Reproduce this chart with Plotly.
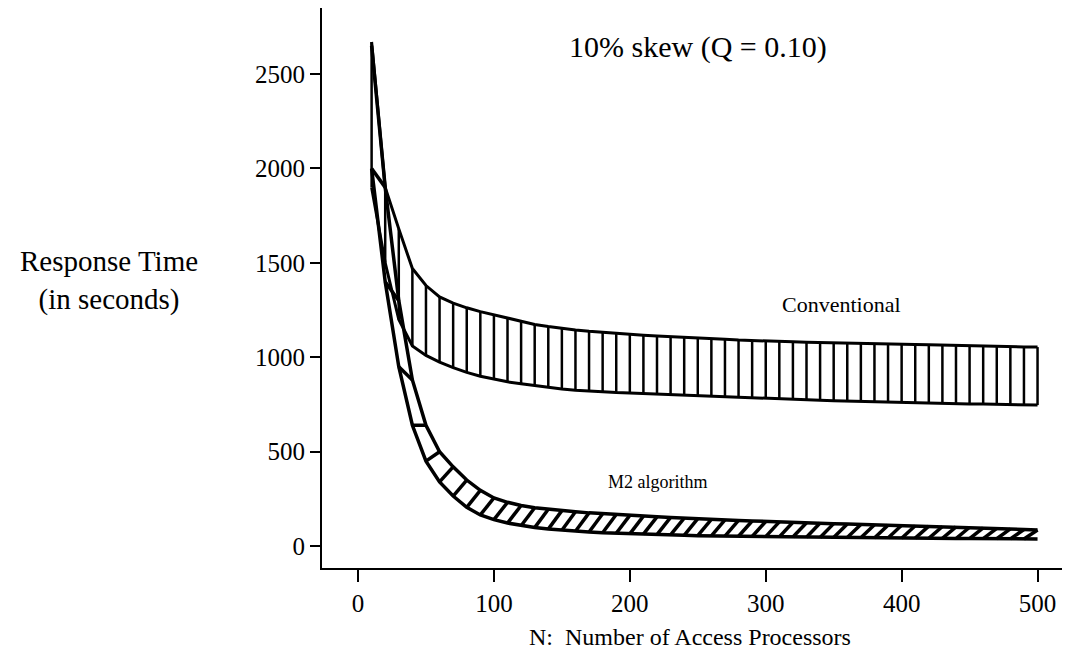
import plotly.graph_objects as go

# ---- data ----
N = [10, 20, 30, 40, 50, 60, 70, 80, 90, 100,
     110, 120, 130, 140, 150, 160, 170, 180, 190, 200,
     210, 220, 230, 240, 250, 260, 270, 280, 290, 300,
     310, 320, 330, 340, 350, 360, 370, 380, 390, 400,
     410, 420, 430, 440, 450, 460, 470, 480, 490, 500]

conv_upper = [2670, 1900, 1680, 1470, 1380, 1320, 1287, 1262, 1242, 1225,
              1205, 1188, 1174, 1163, 1153, 1145, 1138, 1132, 1126, 1121,
              1117, 1113, 1110, 1107, 1103, 1099, 1095, 1091, 1088, 1086,
              1084, 1082, 1080, 1079, 1077, 1076, 1075, 1073, 1071, 1069,
              1068, 1066, 1064, 1063, 1061, 1060, 1058, 1057, 1055, 1054]

conv_lower = [1900, 1500, 1200, 1060, 1010, 975, 945, 920, 900, 885,
              870, 860, 850, 840, 832, 825, 820, 816, 813, 811,
              808, 804, 801, 798, 795, 792, 789, 786, 784, 782,
              780, 777, 775, 772, 770, 768, 766, 764, 762, 760,
              759, 758, 757, 755, 753, 752, 751, 750, 748, 747]

m2_upper = [2650, 1900, 1300, 880, 640, 500, 420, 350, 295, 255,
            232, 215, 203, 195, 188, 182, 176, 171, 167, 163,
            159, 155, 152, 148, 145, 142, 139, 136, 133, 130,
            128, 126, 124, 122, 119, 117, 115, 113, 111, 110,
            108, 106, 104, 102, 100, 97, 94, 91, 88, 85]

m2_lower = [2000, 1400, 950, 640, 450, 340, 265, 205, 165, 140,
            122, 108, 98, 90, 84, 79, 75, 71, 68, 65,
            63, 61, 59, 57, 55, 54, 53, 52, 51, 50,
            49, 48, 47, 46, 45, 45, 44, 43, 43, 42,
            42, 41, 41, 40, 40, 39, 39, 38, 38, 38]

x_ticks = [0, 100, 200, 300, 400, 500]
y_ticks = [0, 500, 1000, 1500, 2000, 2500]

title_text = "10% skew (Q = 0.10)"
conv_label = "Conventional"
m2_label = "M2 algorithm"
x_title = "N:  Number of Access Processors"
y_title = "Response Time<br>(in seconds)"

FONT = "Liberation Serif, Times New Roman, serif"
INK = "black"

fig = go.Figure()

# conventional band: vertical hatching
hx, hy = [], []
for n, lo, up in zip(N, conv_lower, conv_upper):
    hx += [n, n, None]
    hy += [lo, up, None]
fig.add_trace(go.Scatter(x=hx, y=hy, mode="lines",
                         line=dict(color=INK, width=2.5), hoverinfo="skip"))
fig.add_trace(go.Scatter(x=N, y=conv_upper, mode="lines",
                         line=dict(color=INK, width=3), hoverinfo="skip"))
fig.add_trace(go.Scatter(x=N, y=conv_lower, mode="lines",
                         line=dict(color=INK, width=3), hoverinfo="skip"))

# M2 band: Z-shaped hatching
zx, zy = [], []
for i in range(len(N) - 1):
    zx += [N[i + 1], N[i], None]
    zy += [m2_upper[i + 1], m2_lower[i], None]
fig.add_trace(go.Scatter(x=zx, y=zy, mode="lines",
                         line=dict(color=INK, width=3.5), hoverinfo="skip"))
fig.add_trace(go.Scatter(x=N, y=m2_upper, mode="lines",
                         line=dict(color=INK, width=3.5), hoverinfo="skip"))
fig.add_trace(go.Scatter(x=N, y=m2_lower, mode="lines",
                         line=dict(color=INK, width=3.5), hoverinfo="skip"))

annotations = [
    dict(x=250, y=2643, xref="x", yref="y", text=title_text, showarrow=False,
         font=dict(size=30, family=FONT, color=INK)),
    dict(x=356, y=1282, xref="x", yref="y", text=conv_label, showarrow=False,
         font=dict(size=22, family=FONT, color=INK)),
    dict(x=221, y=339, xref="x", yref="y", text=m2_label, showarrow=False,
         font=dict(size=18, family=FONT, color=INK)),
    dict(x=0.497, y=-0.123, xref="paper", yref="paper", text=x_title,
         showarrow=False, xanchor="center", yanchor="middle",
         font=dict(size=24, family=FONT, color=INK)),
    dict(x=-0.288, y=0.513, xref="paper", yref="paper", text=y_title,
         showarrow=False, xanchor="center", yanchor="middle", align="center",
         font=dict(size=29, family=FONT, color=INK)),
]

fig.update_layout(
    width=1076, height=664,
    margin=dict(l=322, r=14, t=8, b=96),
    paper_bgcolor="white", plot_bgcolor="white",
    showlegend=False,
    annotations=annotations,
    font=dict(family=FONT, color=INK, size=23),
)
fig.update_xaxes(range=[-26.5, 518], tickvals=x_ticks, ticktext=[str(v) for v in x_ticks],
                 showgrid=False, zeroline=False, showline=True, linecolor=INK, linewidth=2,
                 ticks="outside", ticklen=12, tickwidth=2, tickcolor=INK,
                 tickfont=dict(size=25, family=FONT, color=INK))
fig.update_yaxes(range=[-116, 2850], tickvals=y_ticks, ticktext=[str(v) for v in y_ticks],
                 showgrid=False, zeroline=False, showline=True, linecolor=INK, linewidth=2,
                 ticks="outside", ticklen=10, tickwidth=2, tickcolor=INK,
                 tickfont=dict(size=25, family=FONT, color=INK))

fig.write_html("out.html")
